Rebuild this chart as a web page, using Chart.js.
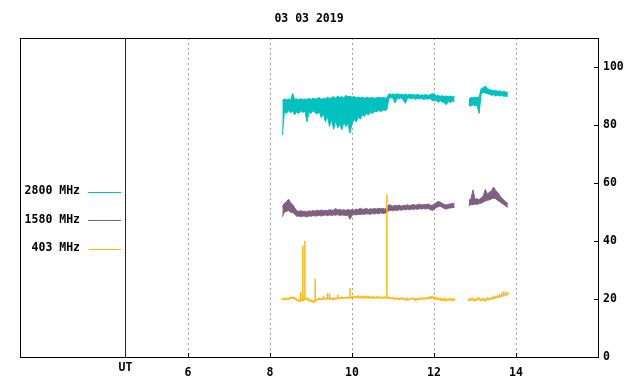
<!DOCTYPE html>
<html>
<head>
<meta charset="utf-8">
<script src="https://cdn.jsdelivr.net/npm/chart.js@4.4.1/dist/chart.umd.min.js"></script>
<style>
  html, body { margin: 0; padding: 0; background: #fff; }
  #wrap { width: 640px; height: 384px; }
</style>
</head>
<body>
<div id="wrap"><canvas id="radioChart" width="640" height="384"></canvas></div>
<script>
// sample times (UT hours); each sample has an upper and lower envelope value
var hours = [
  8.30, 8.35, 8.40, 8.45, 8.50, 8.55, 8.60, 8.65, 8.70, 8.75,
  8.80, 8.85, 8.90, 8.95, 9.00, 9.05, 9.10, 9.15, 9.20, 9.25,
  9.30, 9.35, 9.40, 9.45, 9.50, 9.55, 9.60, 9.65, 9.70, 9.75,
  9.80, 9.85, 9.90, 9.95, 10.00, 10.05, 10.10, 10.15, 10.20, 10.25,
  10.30, 10.35, 10.40, 10.45, 10.50, 10.55, 10.60, 10.65, 10.70, 10.75,
  10.80, 10.85, 10.90, 10.95, 11.00, 11.05, 11.10, 11.15, 11.20, 11.25,
  11.30, 11.35, 11.40, 11.45, 11.50, 11.55, 11.60, 11.65, 11.70, 11.75,
  11.80, 11.85, 11.90, 11.95, 12.00, 12.05, 12.10, 12.15, 12.20, 12.25,
  12.30, 12.35, 12.40, 12.45, 12.50, 12.55, 12.60, 12.65, 12.70, 12.75,
  12.80, 12.85, 12.90, 12.95, 13.00, 13.05, 13.10, 13.15, 13.20, 13.25,
  13.30, 13.35, 13.40, 13.45, 13.50, 13.55, 13.60, 13.65, 13.70, 13.75,
  13.80
];

var mhz2800Hi = [
  88.5, 89.0, 88.7, 89.0, 88.5, 90.9, 88.8, 89.0, 88.6, 89.1,
  88.7, 89.0, 88.8, 89.2, 88.7, 89.3, 88.9, 89.1, 89.5, 88.8,
  89.2, 89.0, 89.6, 89.1, 89.4, 89.8, 89.2, 90.0, 89.5, 89.8,
  89.3, 90.2, 89.7, 89.9, 89.6, 89.8, 89.4, 89.6, 89.3, 89.6,
  89.2, 89.5, 89.4, 89.3, 89.5, 89.2, 89.4, 89.6, 89.3, 89.5,
  89.3, 89.4, 90.8, 90.5, 90.7, 90.4, 90.8, 90.5, 90.6, 90.4,
  90.7, 90.3, 90.6, 90.4, 90.5, 90.3, 90.6, 90.2, 90.4, 90.3,
  90.5, 90.2, 90.4, 90.8, 90.6, 90.0, 90.2, 89.9, 90.1, 89.8,
  90.0, 89.8, 90.0, 89.7, 89.8, null, null, null, null, null,
  null, 88.8, 89.5, 89.3, 89.6, 89.4, 89.6, 92.6, 92.8, 93.4,
  92.6, 92.2, 92.0, 91.8, 92.0, 91.6, 91.8, 91.4, 91.6, 91.3,
  91.2
];
var mhz2800Lo = [
  76.5, 84.5, 84.0, 85.0, 84.2, 84.8, 83.5, 84.6, 84.0, 85.0,
  84.3, 84.8, 81.1, 84.5, 84.0, 85.0, 84.2, 83.8, 84.6, 82.5,
  84.0, 81.0, 83.2, 79.5, 82.0, 78.5, 81.5, 79.0, 80.5, 78.3,
  81.0, 79.5, 80.6, 77.2, 80.5, 82.0, 81.0, 82.8, 82.0, 83.5,
  83.0, 84.0, 83.5, 84.3, 84.0, 84.8, 84.5, 85.0, 84.6, 85.2,
  85.0, 85.3, 89.3, 89.4, 89.2, 87.6, 89.3, 89.0, 89.4, 88.6,
  87.5, 89.2, 89.3, 89.0, 89.3, 88.8, 89.2, 89.0, 89.3, 88.7,
  89.1, 88.9, 89.2, 88.5, 88.3, 88.5, 87.8, 88.4, 88.0, 87.6,
  87.0, 88.2, 87.7, 88.3, 88.0, null, null, null, null, null,
  null, 86.8, 86.5, 87.0, 86.6, 86.8, 84.0, 90.8, 91.2, 91.0,
  90.8, 90.6, 90.2, 90.5, 90.0, 90.3, 90.0, 90.2, 89.9, 90.0,
  89.8
];

var mhz1580Hi = [
  51.8, 53.0, 53.5, 54.4, 53.2, 52.6, 51.5, 50.4, 50.2, 50.5,
  50.1, 50.3, 50.0, 50.4, 50.2, 50.5, 50.3, 50.6, 50.4, 50.7,
  50.4, 50.6, 50.5, 50.8, 50.6, 50.7, 51.2, 50.7, 50.9, 50.6,
  50.8, 50.5, 50.9, 50.6, 50.8, 50.6, 51.0, 50.8, 51.3, 50.9,
  51.0, 51.2, 50.9, 51.1, 51.0, 51.2, 51.0, 51.3, 51.1, 51.2,
  51.0, 51.3, 52.6, 52.2, 52.0, 52.3, 52.1, 52.4, 52.0, 52.3,
  52.2, 52.5, 52.2, 52.4, 52.6, 52.3, 52.5, 52.7, 52.4, 52.6,
  52.5, 52.8, 52.4, 52.3, 52.6, 53.2, 53.6, 53.4, 53.0, 52.6,
  52.4, 52.7, 52.8, 52.9, 53.0, null, null, null, null, null,
  null, 54.1, 54.5, 57.6, 54.4, 54.6, 54.2, 54.8, 55.5, 57.8,
  56.2, 56.8, 57.2, 58.6, 57.5, 56.8, 55.8, 54.8, 54.2, 53.4,
  53.0
];
var mhz1580Lo = [
  48.4, 50.0, 50.2, 50.5, 50.0, 49.8, 49.3, 48.5, 48.6, 48.4,
  48.6, 48.5, 48.3, 48.7, 48.5, 48.8, 48.6, 48.7, 48.9, 48.6,
  48.8, 49.0, 48.7, 49.0, 48.8, 49.0, 48.9, 49.1, 48.8, 49.0,
  48.9, 48.8, 49.0, 47.5, 48.9, 49.1, 49.0, 49.2, 49.1, 49.3,
  49.2, 49.4, 49.3, 49.2, 49.5, 49.3, 49.6, 49.4, 49.7, 49.5,
  49.6, 49.8, 50.5, 50.6, 50.4, 50.7, 50.5, 50.8, 50.6, 50.9,
  50.7, 51.0, 50.8, 51.0, 50.9, 51.1, 50.9, 51.2, 51.0, 51.2,
  51.0, 51.3, 50.9, 50.6, 50.8, 51.5, 51.8, 52.0, 51.6, 51.2,
  51.0, 51.3, 51.4, 51.5, 51.6, null, null, null, null, null,
  null, 52.1, 52.6, 52.5, 52.8, 52.6, 52.9, 53.0, 53.4, 53.8,
  54.0, 54.2, 54.5, 54.8, 54.6, 54.0, 53.6, 53.0, 52.6, 52.0,
  51.6
];

var mhz403Hi = [
  20.4, 20.3, 20.5, 20.4, 20.8, 20.9, 20.7, 20.2, 19.9, 22.5,
  38.4, 40.0, 20.6, 20.3, 19.9, 19.6, 27.1, 20.2, 20.5, 20.4,
  21.0, 20.6, 22.0, 22.0, 20.6, 20.4, 20.6, 21.6, 20.8, 20.9,
  20.7, 20.9, 20.8, 23.8, 21.0, 21.2, 21.0, 21.3, 21.0, 21.1,
  21.0, 21.2, 21.1, 20.9, 21.0, 20.8, 21.0, 20.9, 20.9, 20.8,
  20.9, 56.0, 20.8, 20.6, 20.7, 20.5, 20.6, 20.4, 20.6, 20.5,
  20.4, 20.5, 20.3, 20.4, 20.6, 20.3, 20.5, 20.4, 20.6, 20.5,
  20.6, 20.7, 21.0, 21.1, 20.9, 20.8, 20.5, 20.4, 20.3, 20.4,
  20.2, 20.3, 20.4, 20.2, 20.3, null, null, null, null, null,
  null, 20.2, 20.4, 20.5, 20.2, 20.4, 20.6, 20.3, 20.5, 20.2,
  20.6, 20.4, 20.8, 21.2, 21.0, 21.5, 21.6, 22.2, 22.7, 22.5,
  22.3
];
var mhz403Lo = [
  19.9, 19.8, 20.0, 20.0, 20.3, 20.4, 20.2, 19.7, 19.3, 19.4,
  19.6, 20.0, 19.8, 19.5, 19.2, 18.9, 19.3, 19.8, 20.0, 19.9,
  20.0, 20.1, 20.0, 20.2, 20.0, 19.9, 20.1, 20.2, 20.3, 20.4,
  20.3, 20.5, 20.3, 20.4, 20.5, 20.6, 20.5, 20.6, 20.5, 20.6,
  20.4, 20.6, 20.5, 20.4, 20.5, 20.4, 20.5, 20.4, 20.5, 20.4,
  20.5, 20.4, 20.3, 20.2, 20.2, 20.0, 20.1, 19.9, 20.1, 20.0,
  19.8, 19.7, 19.8, 20.0, 20.1, 19.6, 20.0, 19.9, 20.1, 20.0,
  20.1, 20.2, 20.3, 20.4, 20.3, 20.1, 19.9, 19.7, 19.6, 19.8,
  19.5, 19.7, 19.8, 19.6, 19.7, null, null, null, null, null,
  null, 19.6, 19.8, 19.7, 19.5, 19.8, 19.9, 19.6, 19.8, 19.5,
  20.0, 19.8, 20.1, 20.3, 20.4, 20.6, 20.8, 21.0, 21.3, 21.4,
  21.5
];

var seriesLabels = ['2800 MHz', '1580 MHz', '403 MHz'];
var xTickValues = [4.46, 6, 8, 10, 12, 14];
var xTickLabels = ['UT', '6', '8', '10', '12', '14'];
var yTickValues = [0, 20, 40, 60, 80, 100];
var titleText = '03 03 2019';

var FONT = '"DejaVu Sans Mono", "Liberation Mono", monospace';

function points(vals) {
  return hours.map(function(h, i) { return {x: h, y: vals[i]}; });
}

// upper envelope is a line, lower envelope fills up to it
function bandSets(label, hi, lo, color, order) {
  return [
    { label: label, data: points(hi), borderColor: color, backgroundColor: color, fill: false, order: order },
    { label: '', data: points(lo), borderColor: color, backgroundColor: color, fill: '-1', order: order }
  ];
}

// thin series: a vertical stroke lo->hi->lo at every sample, so spikes stay 1px wide
function combSet(label, hi, lo, color, order) {
  var pts = [];
  hours.forEach(function(h, i) {
    if (hi[i] === null) { pts.push({x: h, y: null}); return; }
    pts.push({x: h, y: lo[i]}, {x: h, y: hi[i]}, {x: h, y: lo[i]});
  });
  return [{ label: label, data: pts, borderColor: color, borderWidth: 1.5, fill: false, order: order }];
}

var framePlugin = {
  id: 'gnuFrame',
  beforeDatasetsDraw: function(chart) {
    var ctx = chart.ctx, a = chart.chartArea, xs = chart.scales.x;
    var top = Math.round(a.top), bottom = Math.round(a.bottom);
    ctx.save();
    ctx.lineWidth = 1;
    for (var i = 0; i < xTickValues.length; i++) {
      var px = Math.round(xs.getPixelForValue(xTickValues[i])) + 0.5;
      ctx.beginPath();
      if (xTickLabels[i] === 'UT') {
        ctx.setLineDash([]);
        ctx.strokeStyle = '#800000';
      } else {
        ctx.setLineDash([2, 3]);
        ctx.strokeStyle = '#a0a0a0';
      }
      ctx.moveTo(px, top);
      ctx.lineTo(px, bottom);
      ctx.stroke();
    }
    ctx.restore();
  },
  afterDraw: function(chart) {
    var ctx = chart.ctx, a = chart.chartArea;
    var xs = chart.scales.x, ys = chart.scales.y;
    var left = Math.round(a.left), top = Math.round(a.top);
    var right = Math.round(a.right), bottom = Math.round(a.bottom);
    ctx.save();
    ctx.lineWidth = 1;
    ctx.strokeStyle = '#000';
    ctx.setLineDash([]);
    ctx.strokeRect(left + 0.5, top + 0.5, right - left, bottom - top);

    // inward tick marks
    ctx.beginPath();
    for (var i = 0; i < xTickValues.length; i++) {
      if (xTickLabels[i] === 'UT') continue;
      var px = Math.round(xs.getPixelForValue(xTickValues[i])) + 0.5;
      ctx.moveTo(px, bottom);
      ctx.lineTo(px, bottom - 4);
    }
    for (var j = 0; j < yTickValues.length; j++) {
      var py = Math.round(ys.getPixelForValue(yTickValues[j])) + 0.5;
      ctx.moveTo(right, py);
      ctx.lineTo(right - 4, py);
    }
    ctx.stroke();

    ctx.fillStyle = '#000';
    ctx.font = 'bold 11.5px ' + FONT;
    ctx.textBaseline = 'middle';
    ctx.textAlign = 'center';
    // title over the middle of the plot box
    ctx.fillText(titleText, (left + right) / 2, 19);
    // UT label sits a little higher than the hour labels
    ctx.fillText('UT', Math.round(xs.getPixelForValue(xTickValues[0])) + 0.5, 368);

    // legend on the left
    ctx.textAlign = 'right';
    var row = 0;
    chart.data.datasets.forEach(function(ds) {
      if (!ds.label) return;
      var rowY = 191.5 + row * 28.5;
      ctx.fillStyle = '#000';
      ctx.fillText(ds.label, 80, rowY);
      ctx.strokeStyle = ds.borderColor;
      ctx.beginPath();
      ctx.moveTo(88, Math.round(rowY) + 0.5);
      ctx.lineTo(121, Math.round(rowY) + 0.5);
      ctx.stroke();
      row++;
    });
    ctx.restore();
  }
};

var ctx = document.getElementById('radioChart').getContext('2d');
var radioChart = new Chart(ctx, {
  type: 'line',
  data: {
    datasets: []
      .concat(bandSets(seriesLabels[0], mhz2800Hi, mhz2800Lo, '#00c0c0', 2))
      .concat(bandSets(seriesLabels[1], mhz1580Hi, mhz1580Lo, '#7f6080', 1))
      .concat(combSet(seriesLabels[2], mhz403Hi, mhz403Lo, '#ffb810', 0))
  },
  options: {
    responsive: false,
    animation: false,
    devicePixelRatio: 1,
    spanGaps: false,
    layout: { padding: { left: 20, right: 0, top: 38, bottom: 0 } },
    elements: {
      line: { borderWidth: 1, tension: 0 },
      point: { radius: 0, hoverRadius: 0 }
    },
    plugins: {
      legend: { display: false },
      tooltip: { enabled: false },
      title: { display: false },
      filler: { propagate: false, drawTime: 'beforeDatasetDraw' }
    },
    scales: {
      x: {
        type: 'linear',
        min: 1.9,
        max: 16.0,
        grid: { display: false, drawTicks: false },
        border: { display: false },
        afterBuildTicks: function(scale) {
          scale.ticks = xTickValues.map(function(v) { return {value: v}; });
        },
        afterFit: function(scale) { scale.height = 27; },
        ticks: {
          autoSkip: false,
          maxRotation: 0,
          padding: 9,
          color: '#000',
          font: { family: FONT, size: 11.5, weight: 'bold' },
          callback: function(value) {
            var idx = xTickValues.indexOf(value);
            if (idx < 0 || xTickLabels[idx] === 'UT') return '';
            return xTickLabels[idx];
          }
        }
      },
      y: {
        type: 'linear',
        position: 'right',
        min: 0,
        max: 110,
        grid: { display: false, drawTicks: false },
        border: { display: false },
        afterBuildTicks: function(scale) {
          scale.ticks = yTickValues.map(function(v) { return {value: v}; });
        },
        afterFit: function(scale) { scale.width = 42; },
        ticks: {
          padding: 5,
          color: '#000',
          font: { family: FONT, size: 11.5, weight: 'bold' }
        }
      }
    }
  },
  plugins: [framePlugin]
});
</script>
</body>
</html>
